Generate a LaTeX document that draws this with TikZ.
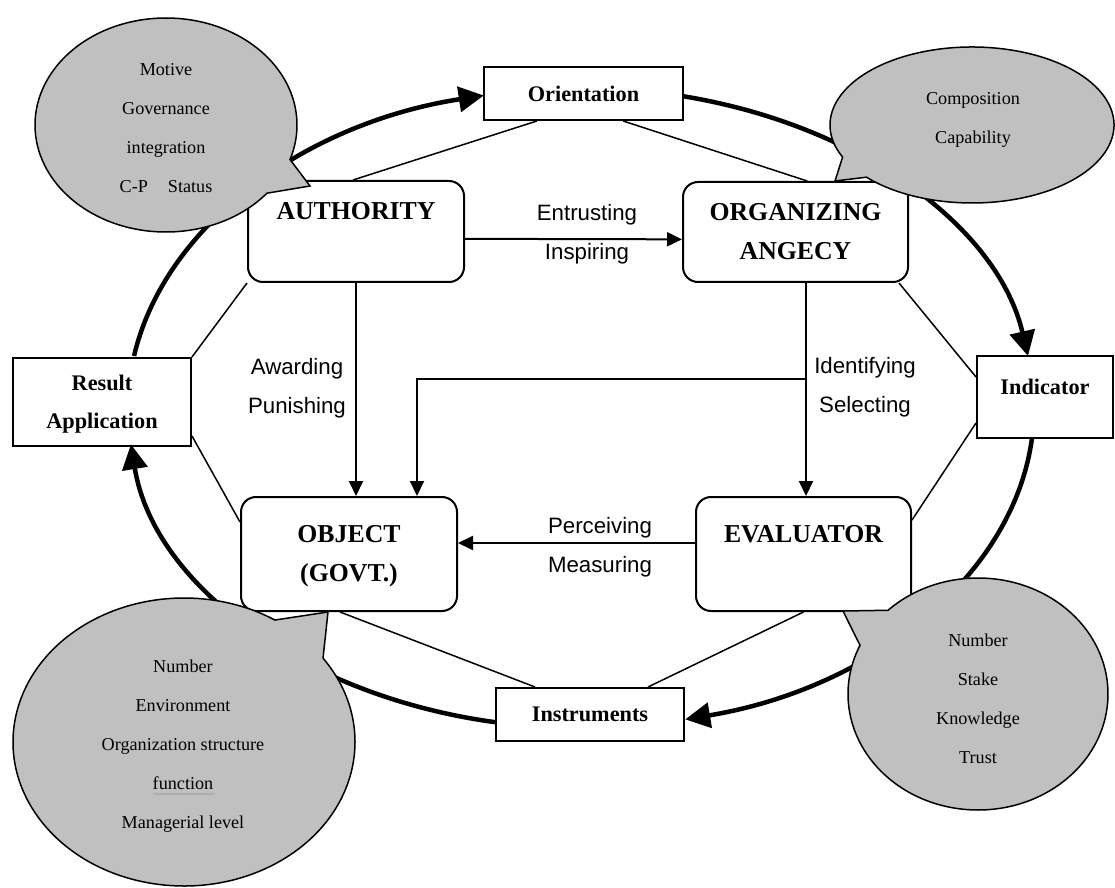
\documentclass[tikz,border=0pt]{standalone}
\usepackage{fontspec}
\setmainfont{Liberation Serif}
\newfontfamily\verbfont{Liberation Sans}
\usetikzlibrary{arrows.meta}
\usetikzlibrary{positioning}
\usetikzlibrary{decorations.pathmorphing}
\definecolor{bubblegray}{RGB}{192,192,192}

\begin{document}
\begin{tikzpicture}[x=0.3mm,y=-0.3mm,
  mainbox/.style={draw,line width=0.6mm,rounded corners=4.5mm,fill=white,align=center,font=\bfseries\fontsize{22}{33.3}\selectfont},
  stagebox/.style={draw,line width=0.6mm,fill=white,align=center,font=\bfseries\fontsize{19}{32.4}\selectfont},
  flow/.style={line width=0.6mm,-{Triangle[length=4.5mm,width=4.2mm]}},
  ring/.style={line width=1.35mm,-{Triangle[length=7.5mm,width=7.5mm]}},
  link/.style={line width=0.45mm},
  bubble/.style={draw,line width=0.45mm,fill=bubblegray},
  bubbletext/.style={align=center,font=\fontsize{15.5}{33.3}\selectfont},
  verb/.style={align=center,font=\verbfont\fontsize{19}{33.3}\selectfont}]
\useasboundingbox (0,0) rectangle (1115,888);

\node[mainbox,minimum width=64.8mm,minimum height=30.3mm] (authority) at (356,231.5) {\strut AUTHORITY\\\strut};
\node[mainbox,minimum width=67.5mm,minimum height=30mm] (agency) at (795.5,232) {\strut ORGANIZING\\\strut ANGECY};
\node[mainbox,minimum width=64.8mm,minimum height=34.2mm] (object) at (349,554) {\strut OBJECT\\\strut (GOVT.)};
\node[mainbox,minimum width=64.5mm,minimum height=34.2mm] (evaluator) at (803.5,554) {\strut EVALUATOR\\\strut};

\node[stagebox,minimum width=59.7mm,minimum height=15.9mm] (orient) at (583.5,93.5) {Orientation};
\node[stagebox,minimum width=53.4mm,minimum height=26.4mm] (result) at (102,402) {\strut Result\\\strut Application};
\node[stagebox,minimum width=40.8mm,minimum height=24.6mm] (indicator) at (1045,397) {\raisebox{6mm}{Indicator}};
\node[stagebox,minimum width=56.4mm,minimum height=15.9mm] (instruments) at (590,714.5) {Instruments};

\draw[flow] ([yshift=-2.2mm]authority.east) -- ([yshift=-2.2mm]agency.west);
\draw[flow] (authority.south) -- (authority.south |- object.north);
\coordinate (branch) at (806,379);
\draw[flow] (agency.south -| branch) -- (evaluator.north -| branch);
\draw[flow] (branch) -| ([xshift=20.4mm]object.north);
\draw[flow] ([yshift=3.3mm]evaluator.west) -- ([yshift=3.3mm]object.east);

\node[verb] (entrust) at (587,234) {Entrusting\\Inspiring};
\node[verb] (award) at (297,388) {Awarding\\Punishing};
\node[verb] (identify) at (865,387.5) {Identifying\\Selecting};
\node[verb] (perceive) at (600,547.5) {Perceiving\\Measuring};

\draw[link] ([xshift=-14mm]orient.south) -- ([xshift=-0.9mm]authority.north);
\draw[link] ([xshift=11.9mm]orient.south) -- ([xshift=3.5mm]agency.north);
\draw[link] ([xshift=-3mm]agency.south east) -- ([yshift=6mm]indicator.west);
\draw[link] ([yshift=-7.8mm]indicator.west) -- ([yshift=10.2mm]evaluator.east);
\draw[link] (evaluator.south) -- ([xshift=17.4mm]instruments.north);
\draw[link] ([xshift=-16.5mm]instruments.north) -- ([xshift=-2.7mm]object.south);
\draw[link] (result.north east) -- (authority.south west);
\draw[link] ([yshift=3.3mm]result.south east) -- ([yshift=9.6mm]object.west);

\coordinate (ring) at (581,408);
\draw[ring] (ring) ++(189.35:453 and 320) arc[start angle=189.35,end angle=257.6,x radius=453,y radius=320];
\draw[ring] (ring) ++(283:453 and 320) arc[start angle=283,end angle=350.65,x radius=453,y radius=320];
\draw[ring] (ring) ++(5.4:453 and 320) arc[start angle=5.4,end angle=76.7,x radius=453,y radius=320];
\draw[ring] (ring) ++(100.8:453 and 320) arc[start angle=100.8,end angle=173.5,x radius=453,y radius=320];

\draw[bubble] (166,125) ++(39.6:131 and 107) arc[start angle=39.6,end angle=378.8,x radius=131,y radius=107] -- (310,186) -- cycle;
\draw[bubble] (972,125) ++(155.7:142 and 78) arc[start angle=155.7,end angle=498,x radius=142,y radius=78] -- (835,181) -- cycle;
\draw[bubble] (184,742) ++(324.4:171 and 144) arc[start angle=324.4,end angle=662.1,x radius=171,y radius=144] -- (328,612) -- cycle;
\draw[bubble] (978,694) ++(226.2:130 and 116) arc[start angle=226.2,end angle=564.8,x radius=130,y radius=116] -- (843,611) -- cycle;

\node[bubbletext] (motive) at (166,128) {Motive\\Governance\\integration\\C-P\hspace{6mm}Status};
\node[bubbletext] (compose) at (973,120) {Composition\\Capability};
\node[bubbletext] (govt) at (183,746) {Number\\Environment\\Organization structure\\function\\Managerial level};
\node[bubbletext] (evalfeat) at (978,699) {Number\\Stake\\Knowledge\\Trust};
\draw[gray!80,decorate,decoration={snake,amplitude=0.25mm,segment length=0.9mm}] (153,794) -- (215,794);

\end{tikzpicture}
\end{document}
